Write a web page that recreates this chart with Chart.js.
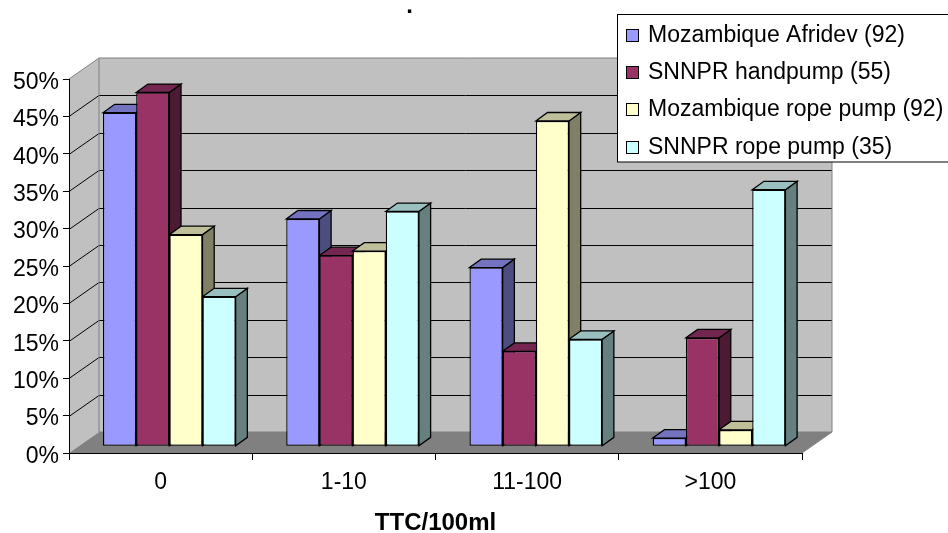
<!DOCTYPE html>
<html>
<head>
<meta charset="utf-8">
<script src="https://cdn.jsdelivr.net/npm/chart.js@4.4.1/dist/chart.umd.min.js"></script>
<style>
  html, body { margin: 0; padding: 0; background: #fff; }
  canvas { display: block; }
</style>
</head>
<body>
<canvas id="myChart" width="948" height="533"></canvas>
<script>
// data (share of samples in each TTC class)
var categories = ["0", "1-10", "11-100", ">100"];
var seriesNames = ["Mozambique Afridev (92)", "SNNPR handpump (55)", "Mozambique rope pump (92)", "SNNPR rope pump (35)"];
var mozAfridev = [44.6, 30.4, 23.9, 1.1];
var snnprHandpump = [47.3, 25.5, 12.7, 14.5];
var mozRopePump = [28.3, 26.1, 43.5, 2.2];
var snnprRopePump = [20.0, 31.4, 14.3, 34.3];
var yMax = 50;
var yStep = 5;
var xTitle = "TTC/100ml";
var chartTitle = ".";

// colours (front, right side, top) like the old excel 3d columns
var frontColors = ["#9999ff", "#993366", "#ffffcc", "#ccffff"];
var sideColors = ["#4d4d80", "#4d1a33", "#808066", "#668080"];
var topColors = ["#7373bf", "#732650", "#bfbf99", "#99bfbf"];

var DEPTH_X = 30, DEPTH_Y = -21;       // walls / floor depth
var SHIFT_X = 8.7, SHIFT_Y = -6.7;     // bars stand a bit behind the front edge
var SIDE_X = 11.7, SIDE_Y = -8.4;      // bar thickness

Chart.defaults.font.family = '"Liberation Sans", Arial, sans-serif';
Chart.defaults.color = '#000';

var walls = {
  id: 'walls',
  beforeDraw: function(chart) {
    var c = chart.ctx, a = chart.chartArea, ys = chart.scales.y;
    var l = a.left, r = a.right, t = a.top, b = a.bottom;
    c.save();
    c.fillStyle = '#c0c0c0';
    c.beginPath();
    c.moveTo(l, t); c.lineTo(l + DEPTH_X, t + DEPTH_Y); c.lineTo(l + DEPTH_X, b + DEPTH_Y); c.lineTo(l, b);
    c.closePath(); c.fill();
    c.fillRect(l + DEPTH_X, t + DEPTH_Y, r - l, b - t);
    c.fillStyle = '#808080';
    c.beginPath();
    c.moveTo(l, b); c.lineTo(l + DEPTH_X, b + DEPTH_Y); c.lineTo(r + DEPTH_X, b + DEPTH_Y); c.lineTo(r, b);
    c.closePath(); c.fill();

    // gridlines run over the left wall and along the back wall
    c.strokeStyle = '#000';
    c.lineWidth = 1;
    ys.ticks.forEach(function(tk) {
      if (tk.value <= 0 || tk.value >= yMax) return;
      var py = Math.round(ys.getPixelForValue(tk.value)) + 0.5;
      c.beginPath();
      c.moveTo(l, py); c.lineTo(l + DEPTH_X, py + DEPTH_Y); c.lineTo(r + DEPTH_X, py + DEPTH_Y);
      c.stroke();
    });

    c.strokeStyle = '#808080';
    c.beginPath();
    c.moveTo(l, t); c.lineTo(l + DEPTH_X, t + DEPTH_Y); c.lineTo(r + DEPTH_X, t + DEPTH_Y);
    c.lineTo(r + DEPTH_X, b + DEPTH_Y); c.lineTo(r, b);
    c.moveTo(l + DEPTH_X, t + DEPTH_Y); c.lineTo(l + DEPTH_X, b + DEPTH_Y); c.lineTo(r + DEPTH_X, b + DEPTH_Y);
    c.stroke();
    c.restore();
  },
  // sides and tops of every bar first, left to right; fronts come after and cover what is hidden
  beforeDatasetsDraw: function(chart) {
    var c = chart.ctx;
    c.save();
    c.translate(SHIFT_X, SHIFT_Y);
    c.strokeStyle = '#000';
    c.lineWidth = 1.3;
    c.lineJoin = 'miter';
    var metas = chart.data.datasets.map(function(ds, i) { return chart.getDatasetMeta(i); });
    for (var k = 0; k < categories.length; k++) {
      metas.forEach(function(meta, i) {
        var bar = meta.data[k];
        var p = bar.getProps(['x', 'y', 'base', 'width'], true);
        var x0 = p.x - p.width / 2, x1 = p.x + p.width / 2;
        c.fillStyle = sideColors[i];
        c.beginPath();
        c.moveTo(x1, p.y); c.lineTo(x1 + SIDE_X, p.y + SIDE_Y); c.lineTo(x1 + SIDE_X, p.base + SIDE_Y); c.lineTo(x1, p.base);
        c.closePath(); c.fill(); c.stroke();
        c.fillStyle = topColors[i];
        c.beginPath();
        c.moveTo(x0, p.y); c.lineTo(x0 + SIDE_X, p.y + SIDE_Y); c.lineTo(x1 + SIDE_X, p.y + SIDE_Y); c.lineTo(x1, p.y);
        c.closePath(); c.fill(); c.stroke();
      });
    }
    c.restore();
  },
  beforeDatasetDraw: function(chart) {
    chart.ctx.save();
    chart.ctx.translate(SHIFT_X, SHIFT_Y);
  },
  afterDatasetDraw: function(chart) {
    chart.ctx.restore();
  },
  afterDraw: function(chart) {
    var c = chart.ctx;
    c.save();
    // legend box runs off the right edge
    c.fillStyle = '#fff';
    c.fillRect(617.5, 14.5, 340, 147.5);
    c.strokeStyle = '#000';
    c.lineWidth = 1;
    c.strokeRect(617.5, 14.5, 340, 147.5);
    c.font = '23px "Liberation Sans", Arial, sans-serif';
    c.textAlign = 'left';
    c.textBaseline = 'middle';
    chart.data.datasets.forEach(function(ds, i) {
      var cy = Math.round(35 + i * 37.2);
      c.fillStyle = ds.backgroundColor;
      c.fillRect(626, cy - 6, 13, 13);
      c.strokeRect(626.5, cy - 5.5, 12, 12);
      c.fillStyle = '#000';
      c.fillText(ds.label, 648, cy + 1);
    });
    c.font = 'bold 24px "Liberation Sans", Arial, sans-serif';
    c.textAlign = 'center';
    c.textBaseline = 'alphabetic';
    c.fillText(chartTitle, 409.5, 12.5);
    c.restore();
  }
};

var allSeries = [mozAfridev, snnprHandpump, mozRopePump, snnprRopePump];

var ctx = document.getElementById('myChart').getContext('2d');
var myChart = new Chart(ctx, {
  type: 'bar',
  data: {
    labels: categories,
    datasets: allSeries.map(function(vals, i) {
      return {
        label: seriesNames[i],
        data: vals,
        backgroundColor: frontColors[i],
        borderColor: '#000',
        borderWidth: 1.3,
        borderSkipped: false,
        clip: false
      };
    })
  },
  options: {
    responsive: false,
    animation: false,
    events: [],
    layout: { padding: { left: 0, top: 79, right: 146, bottom: 0 } },
    datasets: { bar: { categoryPercentage: 0.724, barPercentage: 1 } },
    plugins: {
      legend: { display: false },
      title: { display: false },
      tooltip: { enabled: false }
    },
    scales: {
      x: {
        grid: { offset: true, drawOnChartArea: false, tickLength: 7, color: '#000' },
        border: { display: true, color: '#000', width: 1 },
        ticks: { font: { size: 23 }, padding: 9, maxRotation: 0, autoSkip: false },
        title: {
          display: true,
          text: xTitle,
          font: { size: 24, weight: 'bold', lineHeight: 1 },
          padding: { top: 0, bottom: -2 }
        },
        afterFit: function(s) { s.height = 80; }
      },
      y: {
        min: 0,
        max: yMax,
        grid: { drawOnChartArea: false, tickLength: 6, color: '#000' },
        border: { display: true, color: '#000', width: 1 },
        ticks: {
          stepSize: yStep,
          font: { size: 23 },
          padding: 4,
          labelOffset: 3.5,
          callback: function(v) { return v + '%'; }
        },
        afterFit: function(s) { s.width = 69; }
      }
    }
  },
  plugins: [walls]
});
</script>
</body>
</html>
